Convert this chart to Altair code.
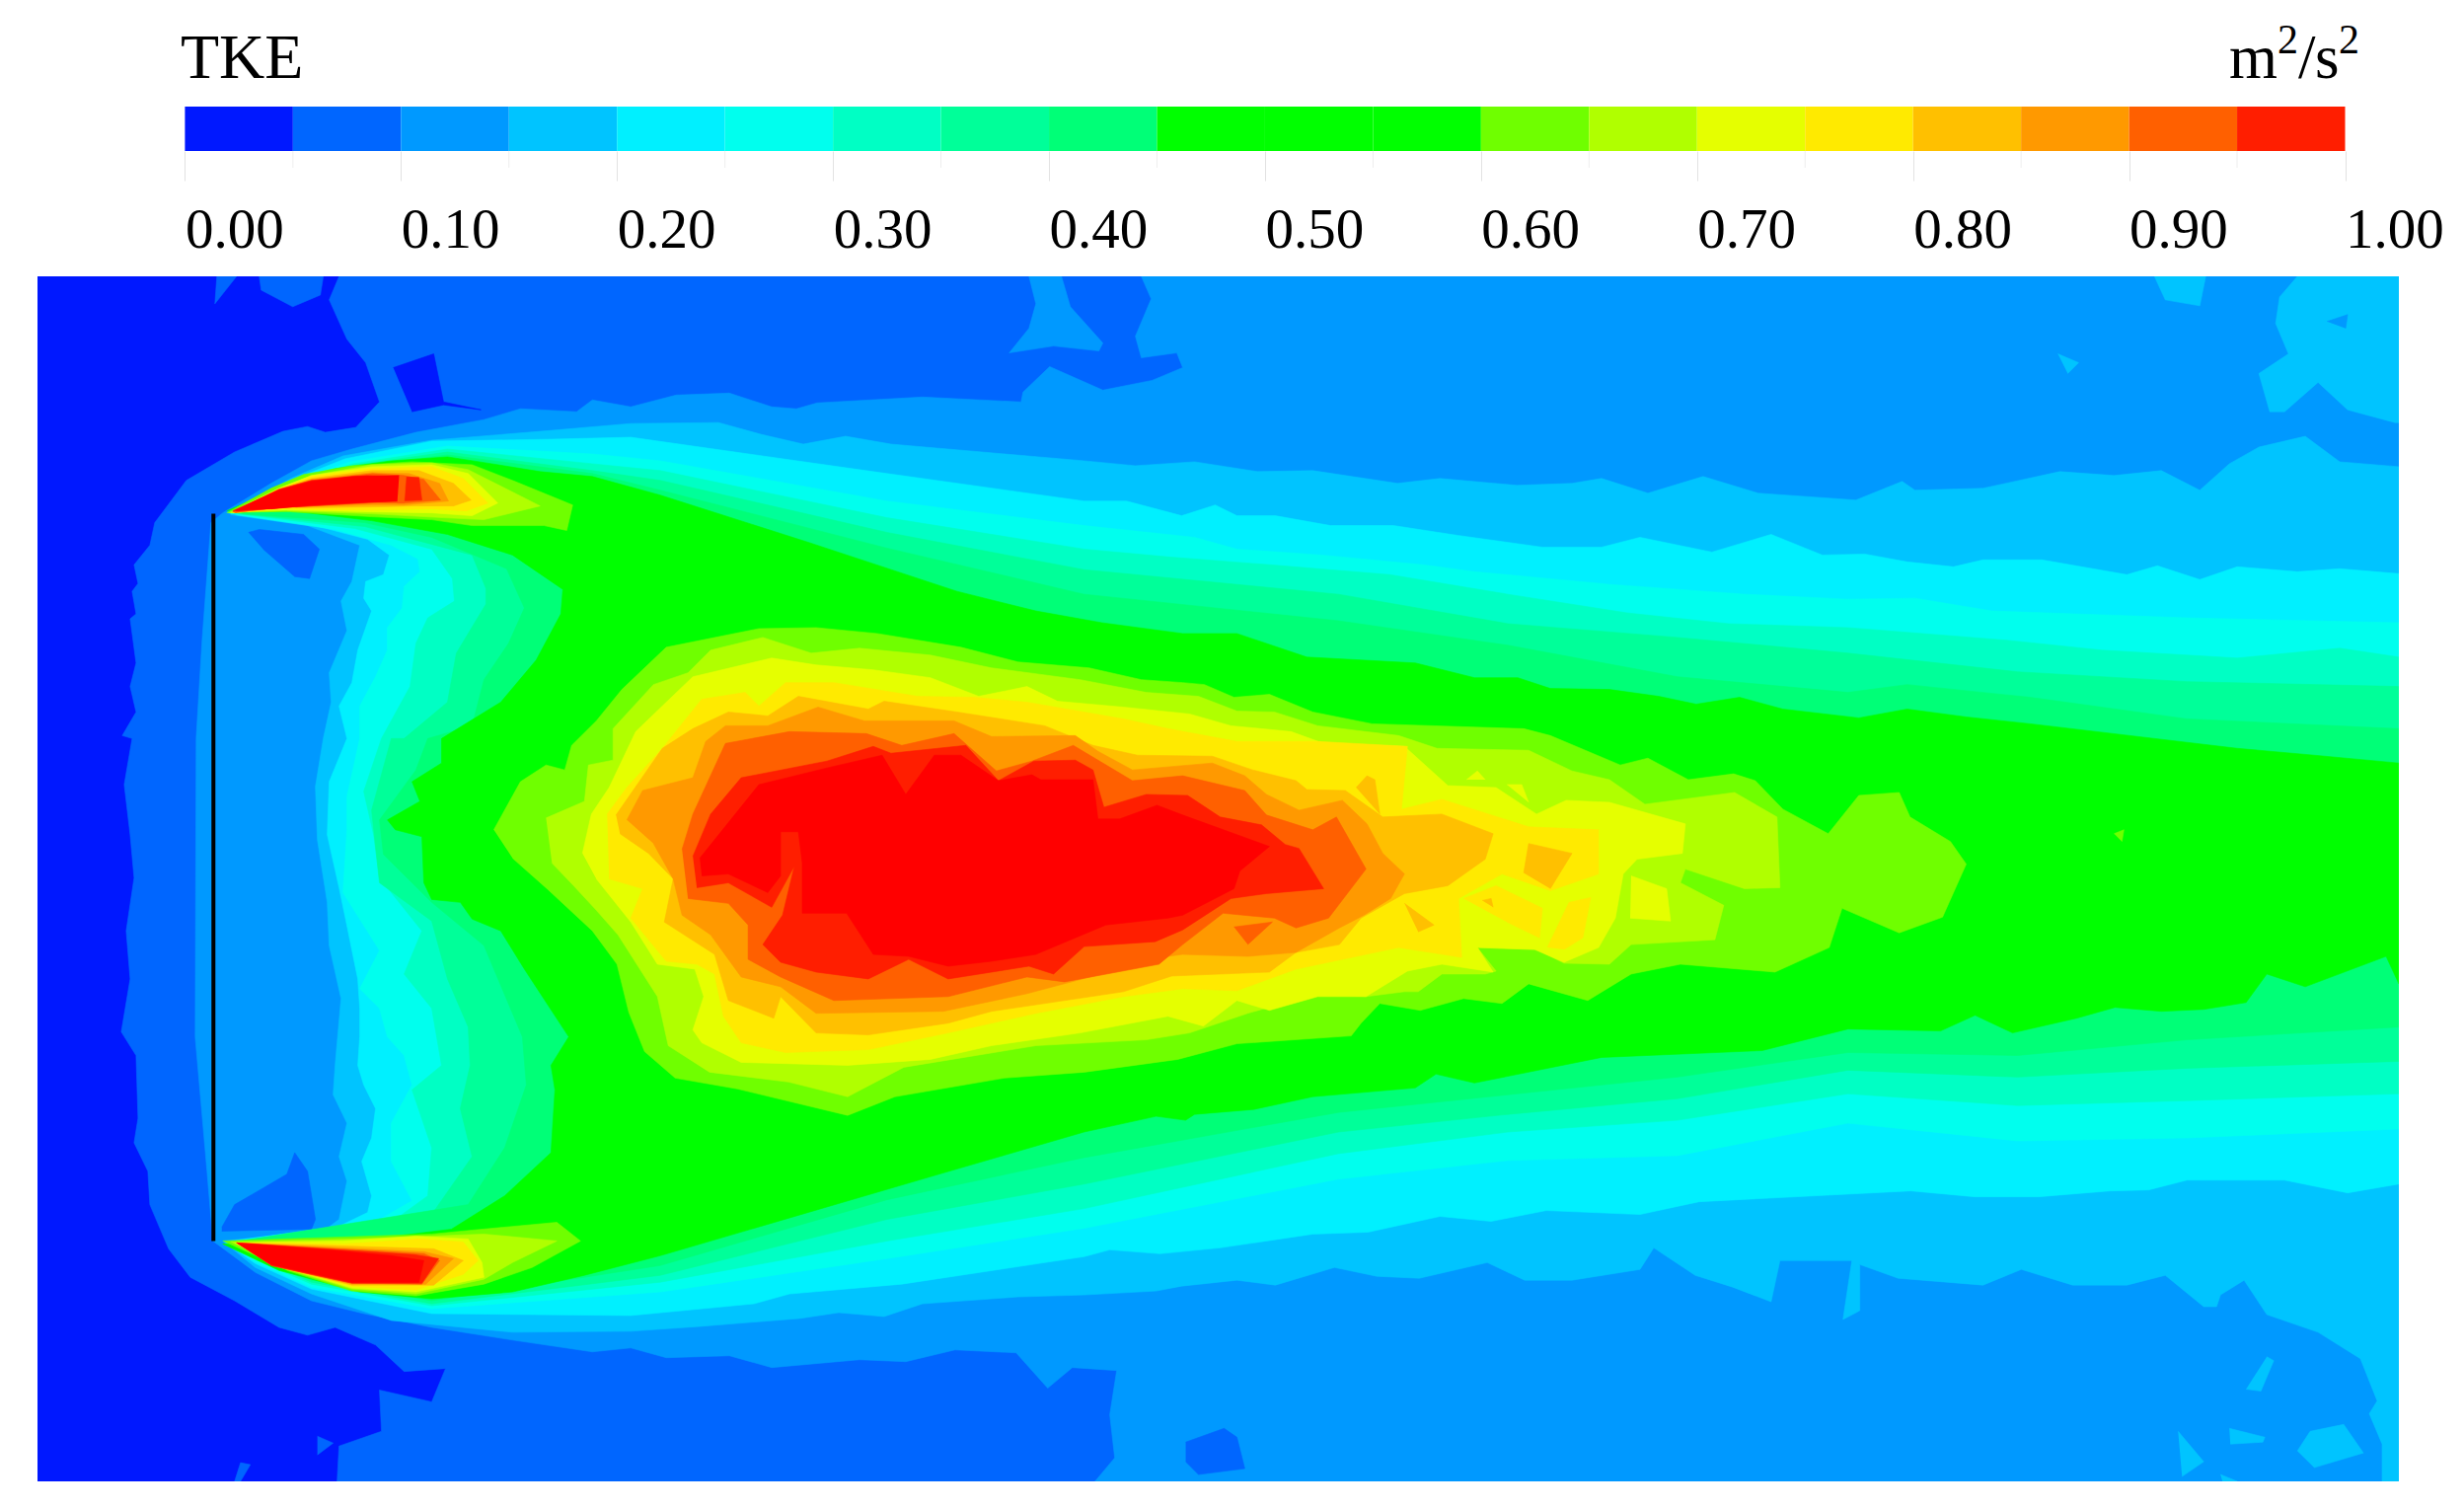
import altair as alt
import pandas as pd

# colour bar
BAND_LO = [round(i * 0.05, 2) for i in range(20)]
BAND_COLORS = ["#0018ff", "#0066ff", "#0099ff", "#00c4ff", "#00f0ff", "#00ffee", "#00ffc4", "#00ff99", "#00ff77",
               "#00ff00", "#00ff00", "#00ff00", "#6fff00", "#b0ff00", "#e5ff00", "#ffea00", "#ffc000", "#ff9900",
               "#ff6000", "#ff1e00"]
MAJOR = [0, .1, .2, .3, .4, .5, .6, .7, .8, .9, 1]
MINOR = [.05, .15, .25, .35, .45, .55, .65, .75, .85, .95]

C = {0: "#0018ff", 1: "#0066ff", 2: "#0099ff", 3: "#00c4ff", 4: "#00f0ff", 5: "#00ffee", 6: "#00ffc4", 7: "#00ff99",
     8: "#00ff77", 9: "#00ff00", 12: "#6fff00", 13: "#b0ff00", 14: "#e5ff00", 15: "#ffea00", 16: "#ffc000",
     17: "#ff9900", 18: "#ff6000", 19: "#ff1e00", 20: "#ff0000"}

XMIN, XMAX, YTOP, YBOT = 38, 2434, 279, 1507
PLATE_X, PLATE_Y0, PLATE_Y1 = 216.5, 521, 1262

L0_BASE = [(38, 279), (2434, 279), (2434, 1507), (38, 1507)]
L1_MAIN = [(344, 279), (334, 303), (352, 343), (371, 367), (385, 407), (361, 433), (330, 438), (312, 432), (287, 437),
           (238, 458), (189, 487), (157, 530), (152, 553), (136, 573), (140, 592), (134, 600), (138, 623), (132, 628),
           (138, 673), (132, 697), (138, 723), (124, 747), (134, 750), (126, 797), (132, 848), (136, 892), (128, 946),
           (132, 995), (123, 1049), (138, 1073), (140, 1137), (136, 1162), (150, 1191), (152, 1225), (171, 1270),
           (193, 1299), (238, 1323), (283, 1350), (312, 1358), (340, 1350), (381, 1368), (410, 1395), (452, 1392),
           (438, 1426), (385, 1414), (387, 1456), (344, 1471), (342, 1507), (2434, 1507), (2434, 279)]
L1_CAP = [(263, 279), (265, 293), (297, 310), (325, 298), (328, 279)]
L1_SLIVER = [(220, 279), (218, 307), (240, 279)]
L1_B1 = [(238, 1507), (244, 1488), (254, 1490), (244, 1507)]
L1_B2 = [(322, 1461), (338, 1468), (322, 1480)]
L0_P1 = [(399, 372), (440, 358), (450, 407), (488, 415), (450, 410), (418, 417)]

L2 = [(1158, 279), (1168, 302), (1152, 340), (1158, 362), (1194, 357), (1200, 372), (1169, 385), (1119, 395), (1065, 371),
      (1038, 397), (1036, 407), (936, 402), (829, 408), (808, 414), (783, 412), (740, 398), (686, 400), (640, 412),
      (601, 405), (585, 417), (528, 414),
      (491, 425), (422, 438), (357, 455), (316, 467), (275, 490), (226, 520), (214, 530), (205, 650), (199, 750),
      (198, 1054), (210, 1191), (216, 1262), (259, 1294), (316, 1323), (369, 1336), (438, 1350), (520, 1363),
      (601, 1375), (640, 1371), (676, 1381), (740, 1379), (783, 1391), (872, 1383), (919, 1385), (969, 1373), (1031, 1376),
      (1063, 1412), (1088, 1391), (1133, 1394), (1126, 1439), (1131, 1483), (1111, 1507), (2434, 1507), (2434, 279)]
L2_ISLAND = [(1044, 279), (1051, 307), (1044, 332), (1024, 357), (1069, 350), (1115, 355), (1119, 347), (1086, 310), (1077, 279)]
L1_W1 = [(252, 540), (263, 537), (308, 542), (324, 557), (314, 587), (299, 585), (267, 557)]
L1_W2 = [(225, 1248), (238, 1225), (291, 1194), (299, 1172), (312, 1191), (320, 1240), (316, 1250), (225, 1252)]
L1_W3 = [(1203, 1467), (1242, 1453), (1255, 1462), (1263, 1494), (1216, 1500), (1203, 1487)]

L3 = [(234, 520), (295, 485), (348, 462), (438, 446), (560, 436), (640, 429), (729, 428), (772, 440), (815, 450), (858, 442),
      (904, 450), (1100, 467), (1152, 472),
      (1212, 468), (1276, 478), (1332, 477), (1418, 490), (1461, 485), (1539, 492), (1595, 490), (1625, 485),
      (1672, 500), (1728, 483), (1784, 500), (1883, 507), (1930, 488), (1943, 497), (2012, 495), (2090, 478),
      (2145, 482), (2193, 477), (2232, 497), (2262, 470), (2292, 453), (2339, 442), (2374, 468), (2434, 473),
      (2434, 1507), (2417, 1507), (2417, 1469), (2404, 1438), (2412, 1425), (2395, 1382), (2352, 1355), (2300, 1337),
      (2277, 1302), (2253, 1317), (2249, 1329), (2236, 1329), (2197, 1297), (2158, 1307), (2103, 1307), (2051, 1291),
      (2012, 1307), (1926, 1300), (1887, 1286), (1887, 1333), (1870, 1342), (1879, 1282), (1806, 1282), (1797, 1324),
      (1758, 1309), (1720, 1297), (1678, 1269), (1664, 1291), (1595, 1302), (1547, 1302), (1509, 1284), (1440, 1300),
      (1397, 1298), (1354, 1289), (1294, 1307), (1255, 1302), (1199, 1308), (1173, 1313), (1100, 1317), (1033, 1319),
      (936, 1326), (897, 1339), (851, 1335), (811, 1341), (711, 1349), (640, 1354), (520, 1355), (397, 1343), (316, 1316), (259, 1289), (226, 1262),
      (328, 1252), (344, 1240), (352, 1201), (344, 1176), (352, 1142), (338, 1113), (340, 1083), (346, 1015),
      (334, 961), (332, 917), (322, 853), (320, 799), (328, 750), (336, 713), (334, 683), (352, 640), (346, 610),
      (357, 590), (365, 553), (312, 533), (234, 522)]
L3_TR = [(2331, 279), (2313, 300), (2309, 327), (2322, 358), (2292, 378), (2303, 417), (2318, 417), (2352, 387),
         (2382, 415), (2430, 428), (2434, 428), (2434, 279)]
L2_HOLE = [(2361, 325), (2382, 318), (2380, 332)]
L3_T2 = [(2186, 279), (2197, 303), (2232, 309), (2238, 279)]
L3_T3 = [(2088, 358), (2109, 367), (2098, 378)]
L3_B1 = [(2210, 1456), (2236, 1487), (2214, 1502)]
L3_B2 = [(2262, 1453), (2298, 1462), (2296, 1467), (2263, 1469)]
L3_B3 = [(2331, 1476), (2344, 1456), (2378, 1449), (2398, 1478), (2348, 1493)]
L3_B4 = [(2300, 1380), (2307, 1384), (2294, 1415), (2279, 1413)]
L3_B5 = [(2253, 1500), (2270, 1507), (2255, 1507)]

L4_TOP = [(230, 520), (300, 485), (350, 465), (438, 447), (560, 445), (640, 443), (900, 480), (1100, 508), (1143, 508),
          (1199, 523), (1233, 512), (1255, 523), (1294, 523), (1350, 533), (1414, 533), (1479, 543), (1565, 555),
          (1625, 555), (1664, 545), (1737, 560), (1797, 542), (1849, 563), (1892, 562), (1935, 570), (1982, 575),
          (2012, 568), (2072, 568), (2158, 583), (2189, 574), (2232, 588), (2270, 575), (2331, 580), (2374, 577),
          (2434, 582)]
L4_BOT = [(2434, 1204), (2382, 1213), (2318, 1200), (2219, 1200), (2180, 1210), (2141, 1211), (2068, 1217), (2004, 1217),
          (1939, 1211), (1724, 1222), (1664, 1235), (1569, 1231), (1513, 1242), (1461, 1237), (1388, 1253), (1332, 1255),
          (1238, 1269), (1177, 1275), (1126, 1271), (1100, 1278), (915, 1306), (801, 1316), (765, 1326), (640, 1338),
          (438, 1336), (316, 1311), (259, 1285), (228, 1263)]
L4_IN = [(344, 1247), (373, 1233), (377, 1216), (367, 1181), (377, 1157), (381, 1127), (369, 1103), (363, 1083),
         (365, 1054), (365, 1025), (363, 995), (350, 931), (344, 902), (332, 848), (334, 794), (352, 750), (344, 717),
         (357, 693), (363, 660), (377, 620), (369, 607), (371, 590), (389, 583), (395, 563), (373, 547), (316, 532),
         (240, 522)]

L5_TOP = [(232, 520), (305, 485), (355, 468), (454, 452), (601, 460), (670, 467), (900, 508), (1100, 533), (1212, 545),
          (1255, 557), (1341, 563), (1444, 573), (1496, 580), (1634, 593), (1771, 603), (1875, 608), (1943, 607),
          (2021, 620), (2219, 627), (2434, 632)]
L5_BOT = [(2434, 1148), (2219, 1157), (2047, 1160), (1875, 1142), (1702, 1175), (1530, 1180), (1358, 1199), (1100, 1249),
          (900, 1280), (670, 1314), (438, 1331), (316, 1309), (259, 1283), (232, 1263)]
L5_IN = [(377, 1245), (418, 1221), (397, 1181), (397, 1142), (418, 1103), (410, 1073), (393, 1054), (385, 1025),
         (365, 1005), (385, 966), (348, 907), (352, 843), (352, 809), (365, 750), (365, 717), (381, 687), (393, 660),
         (393, 637), (408, 617), (410, 595), (426, 580), (424, 567), (397, 553), (340, 537), (240, 522)]

L6_TOP = [(234, 520), (310, 485), (358, 470), (454, 455), (601, 470), (670, 477), (900, 525), (1100, 557), (1186, 565),
          (1289, 573), (1410, 583), (1530, 603), (1651, 622), (1754, 633), (1875, 637), (2038, 650), (2133, 660),
          (2270, 668), (2374, 658), (2434, 667)]
L6_BOT = [(2434, 1112), (2219, 1119), (2047, 1124), (1875, 1112), (1702, 1139), (1530, 1151), (1358, 1173), (1100, 1229),
          (900, 1262), (670, 1304), (438, 1328), (316, 1306), (259, 1281), (234, 1263)]
L6_IN = [(397, 1243), (434, 1216), (438, 1167), (418, 1108), (448, 1083), (438, 1025), (410, 990), (428, 946), (385, 892),
         (379, 848), (369, 804), (387, 750), (416, 697), (422, 653), (434, 627), (461, 610), (459, 587), (438, 557),
         (360, 536), (242, 521)]

L7_TOP = [(236, 520), (315, 485), (362, 471), (454, 458), (601, 477), (670, 487), (900, 540), (1100, 578), (1358, 603),
          (1530, 633), (1702, 647), (1875, 663), (2047, 682), (2219, 692), (2434, 697)]
L7_BOT = [(2434, 1079), (2219, 1086), (2047, 1095), (1875, 1088), (1702, 1117), (1530, 1133), (1358, 1151), (1100, 1204),
          (900, 1240), (670, 1297), (438, 1326), (316, 1304), (259, 1279), (236, 1263)]
L7_IN = [(438, 1235), (479, 1176), (467, 1127), (477, 1083), (475, 1044), (454, 995), (438, 936), (385, 897), (377, 823),
         (397, 750), (410, 750), (454, 713), (463, 663), (493, 613), (493, 597), (479, 563), (370, 534), (244, 521)]

L8_TOP = [(238, 520), (318, 484), (365, 472), (454, 461), (601, 480), (670, 497), (900, 556), (1100, 603), (1358, 630),
          (1530, 655), (1702, 687), (1875, 703), (1935, 695), (2060, 708), (2219, 730), (2434, 740)]
L8_BOT = [(2434, 1044), (2219, 1057), (2047, 1073), (1875, 1070), (1702, 1095), (1530, 1113), (1358, 1131), (1100, 1177),
          (900, 1220), (670, 1287), (438, 1323), (316, 1302), (259, 1277), (238, 1263)]
L8_IN = [(475, 1225), (512, 1167), (534, 1103), (530, 1054), (491, 961), (438, 917), (389, 868), (385, 833), (422, 782),
         (434, 750), (479, 737), (491, 690), (516, 653), (532, 617), (514, 577), (438, 545), (370, 530), (246, 521)]

L9_TOP = [(230, 518), (279, 497), (308, 483), (340, 475), (397, 467), (454, 463), (499, 470), (548, 478), (601, 483),
          (670, 502), (820, 550), (971, 600), (1051, 620), (1118, 632), (1200, 643), (1255, 643), (1326, 667), (1436, 673),
          (1496, 688), (1540, 688), (1573, 699), (1633, 700), (1683, 707), (1721, 715), (1765, 708), (1809, 720),
          (1886, 729), (1935, 720), (1995, 728), (2060, 735), (2270, 760), (2348, 767), (2434, 775)]
L9_BOT = [(2434, 1000), (2421, 972), (2339, 1003), (2300, 990), (2279, 1019), (2236, 1026), (2193, 1028), (2146, 1024),
          (2107, 1035), (2042, 1050), (2004, 1032), (1969, 1048), (1875, 1046), (1788, 1068), (1625, 1075), (1496, 1101),
          (1457, 1092), (1436, 1106), (1332, 1115), (1272, 1128), (1212, 1133), (1203, 1139), (1173, 1135), (1100, 1151),
          (956, 1193), (670, 1277), (593, 1297), (520, 1314), (438, 1321), (365, 1314), (283, 1292), (226, 1265)]
L9_IN = [(377, 1260), (458, 1250), (512, 1216), (559, 1172), (563, 1108), (559, 1083), (577, 1054), (532, 985), (508, 946),
         (479, 934), (467, 917), (438, 914), (430, 897), (428, 850), (401, 843), (393, 833), (426, 814), (418, 794),
         (448, 775), (448, 750), (508, 713), (544, 670), (569, 623), (571, 598), (520, 563), (454, 542), (377, 528),
         (295, 518)]

# upper jet
JT12 = [(230, 520), (275, 495), (308, 481), (357, 472), (418, 468), (479, 471), (520, 487), (581, 512), (575, 538), (552, 533),
        (479, 533), (438, 527), (377, 524), (295, 519)]
JT13 = [(232, 520), (283, 495), (316, 482), (377, 471), (438, 469), (475, 476), (548, 513), (491, 527), (450, 525), (377, 521),
        (291, 518)]
JT14 = [(234, 520), (283, 495), (316, 482), (377, 473), (438, 471), (475, 480), (505, 510), (479, 523), (438, 520), (377, 519),
        (291, 517)]
JT15 = [(236, 520), (283, 496), (316, 483), (377, 475), (438, 473), (470, 485), (495, 510), (473, 518), (438, 516), (377, 517),
        (291, 516)]
JT16 = [(237, 520), (283, 496), (316, 485), (377, 477), (425, 477), (460, 490), (478, 507), (460, 513), (420, 513), (377, 514),
        (291, 515)]
JT17 = [(238, 520), (283, 497), (316, 486), (377, 479), (415, 480), (446, 490), (455, 508), (410, 512), (377, 512), (291, 514)]
JT18 = [(238, 520), (283, 497), (316, 487), (378, 480), (410, 482), (430, 486), (447, 507), (410, 510), (378, 510), (291, 514)]
JT19 = [(236, 519), (283, 496), (316, 487), (372, 482), (425, 484), (428, 507), (378, 509), (300, 514)]
JT20 = [(236, 518), (283, 497), (316, 488), (357, 483), (405, 482), (405, 508), (377, 509), (316, 512), (275, 516)]
JT18B = [(405, 482), (412, 483), (410, 510), (403, 510)]
# lower jet
JB12 = [(226, 1262), (438, 1255), (479, 1251), (565, 1243), (589, 1262), (540, 1289), (491, 1306), (422, 1318), (357, 1313),
        (291, 1292)]
JB13 = [(234, 1263), (357, 1260), (438, 1257), (491, 1255), (565, 1262), (520, 1284), (491, 1301), (422, 1316), (357, 1311),
        (291, 1291)]
JB14 = [(238, 1264), (348, 1262), (422, 1257), (475, 1260), (489, 1284), (491, 1299), (422, 1314), (357, 1310), (291, 1290)]
JB15 = [(240, 1264), (350, 1265), (425, 1260), (470, 1263), (485, 1282), (470, 1296), (422, 1312), (357, 1308), (291, 1289)]
JB16 = [(240, 1264), (343, 1267), (440, 1270), (470, 1282), (440, 1307), (357, 1307), (280, 1288)]
JB17 = [(240, 1264), (343, 1269), (430, 1273), (460, 1280), (432, 1306), (357, 1306), (277, 1287)]
JB18 = [(240, 1264), (343, 1270), (430, 1275), (446, 1282), (428, 1306), (357, 1305), (275, 1287)]
JB19 = [(240, 1264), (343, 1271), (420, 1276), (445, 1280), (428, 1305), (357, 1305), (275, 1287)]
JB20 = [(240, 1264), (343, 1272), (397, 1277), (430, 1282), (425, 1304), (357, 1304), (275, 1286)]

# central blob
B12 = [(501, 843), (528, 794), (554, 777), (573, 782), (580, 757), (605, 732), (631, 700), (676, 657), (770, 638), (828, 637),
       (890, 643), (975, 657), (1033, 672), (1105, 678), (1158, 690), (1200, 693), (1222, 695), (1252, 708), (1288, 705),
       (1332, 723), (1392, 735), (1546, 740), (1573, 747), (1644, 777), (1672, 770), (1713, 792), (1759, 786), (1781, 793),
       (1809, 822), (1855, 847), (1886, 808), (1927, 805), (1938, 830), (1979, 855), (1995, 878), (1971, 932), (1927, 948),
       (1869, 923), (1856, 963), (1801, 988), (1705, 980), (1655, 990), (1611, 1017), (1551, 1000), (1524, 1020),
       (1485, 1015), (1441, 1027), (1400, 1020), (1381, 1040), (1371, 1053), (1255, 1061), (1195, 1077), (1100, 1090),
       (1019, 1096), (908, 1115), (860, 1134), (748, 1107), (685, 1096), (654, 1069), (638, 1029), (626, 980), (601, 946),
       (556, 904), (520, 872)]
G_PATCH = [(1823, 820), (1845, 795), (1863, 798), (1852, 835)]
B12_DOT = [(2145, 847), (2155, 843), (2153, 855)]
B13 = [(554, 831), (593, 814), (597, 777), (622, 772), (622, 740), (663, 695), (698, 683), (721, 660), (774, 647), (823, 663),
       (872, 658), (944, 665), (1006, 678), (1096, 690), (1163, 703), (1216, 707), (1255, 722), (1293, 723), (1337, 737),
       (1419, 747), (1458, 760), (1551, 762), (1595, 783), (1633, 792), (1669, 817), (1760, 805), (1803, 830), (1806, 902),
       (1770, 903), (1710, 883), (1705, 897), (1749, 920), (1740, 955), (1655, 960), (1633, 980), (1587, 979), (1559, 965),
       (1499, 963), (1518, 987), (1507, 990), (1463, 990), (1439, 1008), (1425, 1008), (1386, 1013), (1337, 1010),
       (1266, 1030), (1207, 1050), (1163, 1057), (1051, 1063), (917, 1085), (860, 1115), (800, 1100), (720, 1090),
       (678, 1063), (667, 1013), (627, 950), (605, 925), (582, 900), (560, 877)]
B14 = [(591, 867), (600, 827), (618, 800), (645, 743), (676, 713), (703, 687), (783, 668), (828, 675), (886, 680), (944, 688),
       (993, 707), (1042, 697), (1073, 712), (1140, 718), (1207, 725), (1249, 737), (1310, 743), (1343, 755), (1425, 758),
       (1469, 798), (1518, 800), (1559, 827), (1589, 813), (1633, 815), (1710, 837), (1707, 867), (1661, 873), (1647, 888),
       (1639, 933), (1622, 963), (1587, 978), (1557, 965), (1499, 963), (1515, 988), (1463, 980), (1428, 987), (1386, 1013),
       (1337, 1013), (1288, 1027), (1255, 1017), (1221, 1043), (1185, 1033), (1096, 1050), (1006, 1063), (944, 1077),
       (860, 1083), (752, 1080), (712, 1060), (703, 1047), (714, 1013), (705, 985), (667, 980), (640, 937), (605, 893)]
B14_P1 = [(1488, 792), (1499, 783), (1507, 792)]
B14_P2 = [(1529, 797), (1544, 797), (1551, 815)]
B14_P3 = [(1655, 890), (1691, 903), (1695, 936), (1654, 933)]
B15 = [(616, 827), (636, 800), (672, 760), (712, 710), (756, 703), (770, 717), (797, 693), (846, 693), (931, 707), (989, 708),
       (1042, 713), (1140, 730), (1185, 740), (1255, 753), (1337, 753), (1428, 758), (1422, 822), (1463, 812), (1551, 840),
       (1622, 843), (1622, 888), (1573, 905), (1524, 888), (1480, 913), (1483, 973), (1419, 963), (1315, 985), (1255, 1007),
       (1200, 1005), (1140, 1013), (1051, 1030), (962, 1050), (881, 1067), (797, 1070), (752, 1060), (734, 1033), (725, 990),
       (707, 980), (676, 977), (640, 933), (652, 903), (618, 893)]
B15_P1 = [(1485, 913), (1518, 900), (1565, 923), (1562, 953), (1529, 937)]
B15_P2 = [(1570, 963), (1592, 917), (1614, 912), (1606, 953), (1587, 965)]
B16 = [(625, 828), (672, 760), (703, 740), (739, 723), (779, 727), (810, 707), (881, 720), (897, 712), (971, 723), (1060, 737),
       (1109, 757), (1154, 767), (1230, 768), (1271, 782), (1315, 793), (1326, 802), (1365, 803), (1403, 830), (1463, 827),
       (1515, 847), (1507, 873), (1469, 900), (1425, 908), (1381, 933), (1359, 960), (1315, 968), (1288, 988), (1189, 992),
       (1140, 1008), (1006, 1028), (962, 1040), (881, 1052), (828, 1050), (792, 1013), (785, 1035), (739, 1017), (725, 970),
       (674, 937), (683, 893), (658, 867), (629, 847)]
B16_P1 = [(1546, 887), (1551, 857), (1595, 867), (1573, 903)]
B16_P2 = [(1376, 800), (1387, 788), (1395, 792), (1400, 827)]
B16_P3 = [(1425, 918), (1455, 940), (1439, 947)]
B16_P4 = [(1504, 915), (1513, 913), (1515, 922)]
B17 = [(636, 833), (652, 803), (703, 790), (716, 753), (736, 737), (779, 737), (830, 718), (877, 732), (968, 732), (1006, 748),
       (1091, 747), (1114, 763), (1149, 782), (1207, 777), (1230, 775), (1263, 788), (1285, 807), (1318, 823), (1362, 813),
       (1387, 837), (1403, 867), (1425, 888), (1411, 913), (1384, 930), (1359, 943), (1315, 968), (1266, 972), (1200, 970),
       (1185, 972), (1042, 1010), (957, 1028), (828, 1030), (792, 1003), (752, 993), (721, 950), (692, 930), (683, 893),
       (663, 857)]
B18 = [(692, 863), (703, 827), (736, 755), (801, 743), (879, 745), (915, 757), (968, 745), (1011, 783), (1047, 773), (1089, 757),
       (1149, 793), (1200, 788), (1263, 803), (1285, 828), (1332, 843), (1356, 830), (1386, 883), (1348, 933), (1315, 943),
       (1293, 933), (1241, 928), (1200, 960), (1176, 980), (1080, 998), (1042, 993), (962, 1013), (846, 1017), (792, 993),
       (759, 975), (759, 940), (739, 918), (698, 913)]
B18_P = [(1252, 942), (1291, 937), (1266, 960)]
B19 = [(703, 870), (721, 827), (752, 790), (839, 773), (886, 758), (904, 765), (980, 757), (1013, 793), (1049, 773), (1091, 772),
       (1109, 782), (1120, 820), (1163, 807), (1205, 808), (1238, 830), (1280, 838), (1304, 858), (1318, 862), (1343, 903),
       (1285, 908), (1249, 913), (1200, 945), (1172, 957), (1100, 962), (1069, 990), (1044, 982), (962, 995), (922, 975),
       (881, 995), (828, 988), (792, 978), (774, 960), (794, 930), (806, 880), (783, 922), (739, 897), (707, 902)]
B20 = [(710, 872), (770, 797), (839, 780), (895, 767), (919, 807), (948, 767), (975, 767), (1013, 793), (1047, 787), (1056, 792),
       (1109, 792), (1114, 832), (1136, 832), (1174, 818), (1200, 828), (1288, 860), (1258, 885), (1252, 903), (1200, 930),
       (1185, 933), (1122, 940), (1051, 970), (1006, 977), (962, 982), (922, 972), (886, 970), (859, 928), (814, 928),
       (814, 877), (810, 845), (792, 845), (792, 890), (779, 907), (739, 888), (712, 890)]

REGIONS = [
    (0, L0_BASE), (1, L1_MAIN), (1, L1_CAP), (1, L1_SLIVER), (1, L1_B1), (1, L1_B2), (0, L0_P1),
    (2, L2), (2, L2_ISLAND), (1, L1_W1), (1, L1_W2), (1, L1_W3),
    (3, L3), (3, L3_TR), (2, L2_HOLE), (3, L3_T2), (3, L3_T3), (3, L3_B1), (3, L3_B2), (3, L3_B3), (3, L3_B4), (3, L3_B5),
    (4, L4_TOP + L4_BOT + L4_IN), (5, L5_TOP + L5_BOT + L5_IN), (6, L6_TOP + L6_BOT + L6_IN),
    (7, L7_TOP + L7_BOT + L7_IN), (8, L8_TOP + L8_BOT + L8_IN), (9, L9_TOP + L9_BOT + L9_IN),
    (12, JT12), (13, JT13), (14, JT14), (15, JT15), (16, JT16), (17, JT17), (18, JT18), (19, JT19), (20, JT20), (18, JT18B),
    (12, JB12), (13, JB13), (14, JB14), (15, JB15), (16, JB16), (17, JB17), (18, JB18), (19, JB19), (20, JB20),
    (12, B12), (9, G_PATCH), (12, B12_DOT), (13, B13), (14, B14), (14, B14_P1), (14, B14_P2), (14, B14_P3),
    (15, B15), (15, B15_P1), (15, B15_P2), (16, B16), (16, B16_P1), (16, B16_P2), (16, B16_P3), (16, B16_P4),
    (17, B17), (18, B18), (18, B18_P), (19, B19), (20, B20),
]

FONT = "Liberation Serif"
W, H = 2393, 1221
x_field = alt.Scale(domain=[XMIN, XMAX], nice=False, zero=False)
y_field = alt.Scale(domain=[YBOT, YTOP], nice=False, zero=False)

layers = []
for level, pts in REGIONS:
    df = pd.DataFrame({"x": [p[0] for p in pts], "y": [p[1] for p in pts], "i": range(len(pts))})
    layers.append(
        alt.Chart(df).mark_line(fill=C[level], stroke=C[level], strokeWidth=0.6, clip=True, interpolate="linear").encode(
            x=alt.X("x:Q", scale=x_field, axis=None),
            y=alt.Y("y:Q", scale=y_field, axis=None),
            order=alt.Order("i:Q"),
        )
    )
plate = alt.Chart(pd.DataFrame({"x": [PLATE_X], "y": [PLATE_Y0], "y2": [PLATE_Y1]})).mark_rule(
    color="#000000", strokeWidth=4
).encode(x=alt.X("x:Q", scale=x_field, axis=None), y=alt.Y("y:Q", scale=y_field, axis=None), y2="y2:Q")
field = alt.layer(*layers, plate).properties(width=W, height=H)

BAR_X0, BAR_X1 = 187.4, 2376.5
unit = BAR_X1 - BAR_X0
x_bar = alt.Scale(domain=[(XMIN - BAR_X0) / unit, (XMIN + W - BAR_X0) / unit], nice=False, zero=False)
bar_df = pd.DataFrame({"lo": BAND_LO, "hi": [v + 0.05 for v in BAND_LO], "c": BAND_COLORS})
bars = alt.Chart(bar_df).mark_rect().encode(
    x=alt.X("lo:Q", scale=x_bar, axis=alt.Axis(
        values=MAJOR, format=".2f", title=None, domain=False, grid=False, tickColor="#e2e2e2", tickSize=30, tickWidth=1,
        labelFont=FONT, labelFontSize=57, labelColor="#000000", labelAlign="left", labelBaseline="top",
        labelPadding=22, labelOffset=0, labelOverlap=False, labelFlush=False)),
    x2="hi:Q",
    y=alt.value(100), y2=alt.value(145),
    color=alt.Color("c:N", scale=None),
)
minor = alt.Chart(pd.DataFrame({"v": MINOR})).mark_rule(color="#eeeeee", strokeWidth=1).encode(
    x=alt.X("v:Q", scale=x_bar), y=alt.value(145), y2=alt.value(162))


def label(text, x, y, size):
    return alt.Chart(pd.DataFrame({"t": [text]})).mark_text(
        font=FONT, fontSize=size, align="left", baseline="alphabetic", color="#000000"
    ).encode(x=alt.value(x), y=alt.value(y), text="t:N")


texts = [label("TKE", 145, 71, 64), label("m", 2221, 71, 63), label("2", 2270, 46, 42), label("/", 2291, 71, 63),
         label("s", 2308, 71, 63), label("2", 2332, 46, 42)]
legend = alt.layer(bars, minor, *texts).properties(width=W, height=145)

chart = alt.vconcat(legend, field, spacing=19).properties(
    padding={"left": 30, "top": 0, "right": 0, "bottom": 0}, background="#ffffff"
).configure_view(stroke=None)

chart.save("out.html", embed_options={"renderer": "svg", "actions": False})
